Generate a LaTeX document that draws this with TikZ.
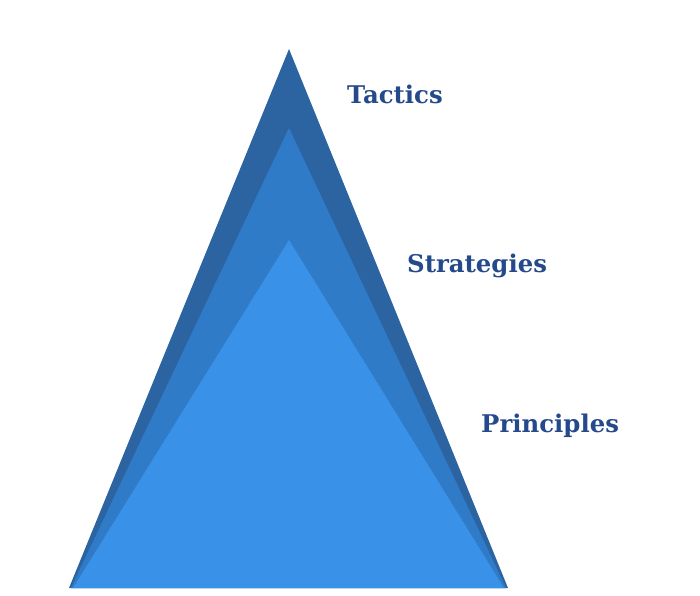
\documentclass[tikz,border=0pt]{standalone}
\usepackage{fontspec}
\setmainfont{DejaVu Serif}
\usetikzlibrary{positioning}
\definecolor{navy}{HTML}{244A8B}
\definecolor{deepblue}{HTML}{2C64A2}
\definecolor{midblue}{HTML}{2F7BC8}
\definecolor{skyblue}{HTML}{3A91E8}
\tikzset{
  tier/.style={draw=none},
  tierlabel/.style={anchor=west, inner sep=0pt, text=navy,
    font=\fontsize{20.8}{24}\selectfont\bfseries},
}
\begin{document}
\begin{tikzpicture}[x=0.03cm, y=-0.03cm]
\useasboundingbox (0,0) rectangle (700,596);
\fill[tier, deepblue] (69,588) -- (289,49) -- (508,588) -- cycle;
\fill[tier, midblue] (71,588) -- (289,128) -- (506,588) -- cycle;
\fill[tier, skyblue] (73,588) -- (289,240) -- (504,588) -- cycle;
\node[tierlabel] (tactics) at (347,94) {Tactics};
\node[tierlabel] (strategies) at (407,266) {Strategies};
\node[tierlabel] (principles) at (481,426) {Principles};
\end{tikzpicture}
\end{document}
